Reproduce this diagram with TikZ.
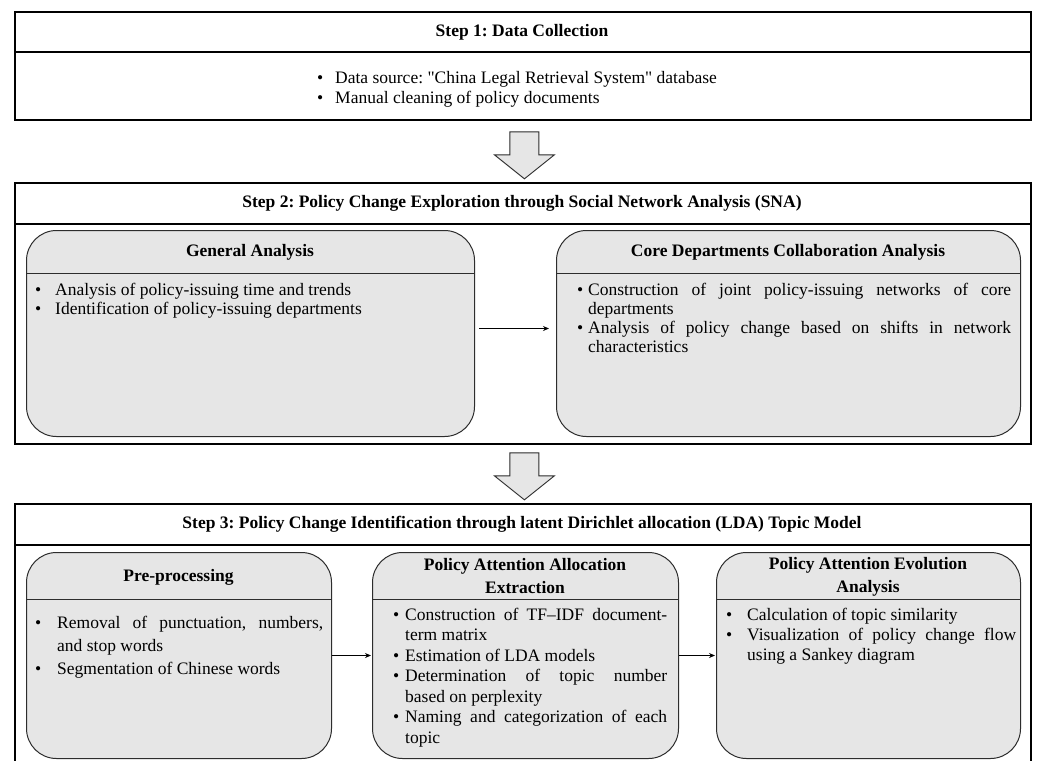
\documentclass[tikz,border=0pt]{standalone}
\usepackage{fontspec}
\setmainfont{Liberation Serif}[Ligatures=TeXOff]
\usetikzlibrary{calc,arrows.meta}
\definecolor{boxgrey}{RGB}{230,230,230}
\definecolor{linegrey}{RGB}{45,45,45}
\frenchspacing
\newcommand{\bodyfont}{\fontsize{17.5}{20}\selectfont}
\newcommand{\bpoint}[2]{\par\noindent\hangindent=#1\hangafter=1\makebox[#1][l]{\textbullet}#2\par}
\newcommand{\blist}[3]{\begin{minipage}[t]{#1}\frenchspacing\hbadness=10000\hyphenpenalty=10000\exhyphenpenalty=10000\bodyfont\baselineskip=#2\relax #3\end{minipage}}
\begin{document}
\begin{tikzpicture}[x=1pt,y=-1pt,
 outerbox/.style={draw=black, line width=1.8pt, rectangle, inner sep=0pt, anchor=north west},
 roundbox/.style={draw=linegrey, line width=1pt, fill=boxgrey, rectangle, rounded corners=30pt, inner sep=0pt, anchor=north west},
 divider/.style={draw=black, line width=1.8pt},
 thindiv/.style={draw=linegrey, line width=0.9pt},
 titletext/.style={font=\bfseries\bodyfont, inner sep=0pt, align=center},
 title2/.style={font=\bfseries\fontsize{17.5}{23}\selectfont, inner sep=0pt, align=center},
 listtext/.style={anchor=base west, inner sep=0pt},
 conn/.style={draw=black, line width=1.1pt, -{Stealth[length=6pt,width=5pt]}},
 bigarrow/.style={draw=linegrey, line width=0.9pt, fill=boxgrey, line join=miter}
]
\useasboundingbox (0,0) rectangle (1038,760);
\fill[white] (0,0) rectangle (1038,760);
\coordinate (d1) at (0,52);
\coordinate (d2) at (0,224);
\coordinate (d3) at (0,273);
\coordinate (d4) at (0,545);
\coordinate (d5) at (0,599);

% ---------- Step 1
\node[outerbox, minimum width=1016pt, minimum height=108pt] (s1) at (14,11) {};
\draw[divider] (s1.west |- d1) -- (s1.east |- d1);
\node[titletext] (t1) at (522,32) {Step 1: Data Collection};
\node[listtext] (l1) at (317,84) {\blist{420pt}{20pt}{%
 \bpoint{18pt}{Data source: "China Legal Retrieval System" database}%
 \bpoint{18pt}{Manual cleaning of policy documents}}};

% big arrow 1
\draw[bigarrow] ($(s1.south)+(-13,11)$) -- ++(29,0) -- ++(0,23) -- ++(15.5,0) -- ++(-30,24) -- ++(-30,-24) -- ++(15.5,0) -- cycle;

% ---------- Step 2
\node[outerbox, minimum width=1016pt, minimum height=261pt] (s2) at (14,182) {};
\draw[divider] (s2.west |- d2) -- (s2.east |- d2);
\node[titletext] (t2) at (522,203) {Step 2: Policy Change Exploration through Social Network Analysis (SNA)};

\node[roundbox, minimum width=448pt, minimum height=206pt] (gen) at (26,230) {};
\draw[thindiv] (gen.west |- d3) -- (gen.east |- d3);
\node[titletext] (gent) at (250,252) {General Analysis};
\node[listtext] (genl) at (35,295) {\blist{430pt}{19pt}{%
 \bpoint{20pt}{Analysis of policy-issuing time and trends}%
 \bpoint{20pt}{Identification of policy-issuing departments}}};

\node[roundbox, minimum width=464pt, minimum height=206pt] (core) at (556,230) {};
\draw[thindiv] (core.west |- d3) -- (core.east |- d3);
\node[titletext] (coret) at (788,252) {Core Departments Collaboration Analysis};
\node[listtext] (corel) at (577,295) {\blist{434pt}{19pt}{%
 \bpoint{11pt}{Construction of joint policy-issuing networks of core\linebreak departments}%
 \bpoint{11pt}{Analysis of policy change based on shifts in network\linebreak characteristics}}};

\draw[conn, shorten <=4pt, shorten >=7pt] ([yshift=5pt]gen.east) -- ([yshift=5pt]core.west);

% big arrow 2
\draw[bigarrow] ($(s2.south)+(-13,8)$) -- ++(29,0) -- ++(0,23) -- ++(15.5,0) -- ++(-30,24) -- ++(-30,-24) -- ++(15.5,0) -- cycle;

% ---------- Step 3
\node[outerbox, minimum width=1016pt, minimum height=280pt] (s3) at (14,503) {};
\draw[divider] (s3.west |- d4) -- (s3.east |- d4);
\node[titletext] (t3) at (522,524) {Step 3: Policy Change Identification through latent Dirichlet allocation (LDA) Topic Model};

\node[roundbox, minimum width=305pt, minimum height=206pt] (pre) at (26,552) {};
\draw[thindiv] (pre.west |- d5) -- (pre.east |- d5);
\node[titletext] (pret) at (178.5,577) {Pre-processing};
\node[listtext] (prel) at (35,628) {\blist{288pt}{23pt}{%
 \bpoint{22pt}{Removal of punctuation, numbers,\linebreak and stop words}%
 \bpoint{22pt}{Segmentation of Chinese words}}};

\node[roundbox, minimum width=306pt, minimum height=206pt] (mid) at (372,552) {};
\draw[thindiv] (mid.west |- d5) -- (mid.east |- d5);
\node[title2] (midt) at (525,576.5) {Policy Attention Allocation\\Extraction};
\node[listtext] (midl) at (393,620) {\blist{274pt}{20.5pt}{%
 \bpoint{12pt}{Construction of TF–IDF document-\linebreak term matrix}%
 \bpoint{12pt}{Estimation of LDA models}%
 \bpoint{12pt}{Determination of topic number\linebreak based on perplexity}%
 \bpoint{12pt}{Naming and categorization of each\linebreak topic}}};

\node[roundbox, minimum width=304pt, minimum height=206pt] (evo) at (716,552) {};
\draw[thindiv] (evo.west |- d5) -- (evo.east |- d5);
\node[title2] (evot) at (868,576.5) {Policy Attention Evolution\\Analysis};
\node[listtext] (evol) at (726,620) {\blist{290pt}{20pt}{%
 \bpoint{21pt}{Calculation of topic similarity}%
 \bpoint{21pt}{Visualization of policy change flow\linebreak using a Sankey diagram}}};

\draw[conn, shorten >=1pt] (pre.east) -- (mid.west);
\draw[conn, shorten >=1pt] (mid.east) -- (evo.west);
\end{tikzpicture}
\end{document}
